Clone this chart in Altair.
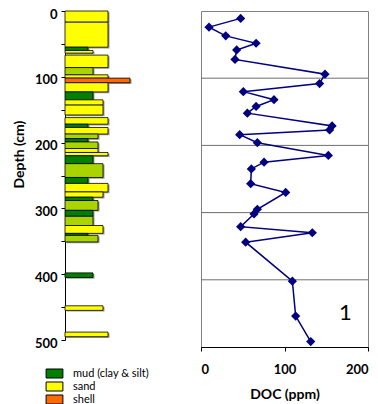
import altair as alt
import pandas as pd

# ---- lithology column (depth intervals in cm, relative grain-size width) ----
bar_top = [0, 17, 55, 60, 67, 86, 97, 102, 109, 123, 135, 143, 162, 172, 177, 187, 194, 199,
           209, 215, 220, 232, 253, 262, 275, 283, 288, 303, 312, 326, 338, 341, 398, 448, 488]
bar_bottom = [17, 55, 60, 64, 86, 97, 102, 109, 123, 135, 143, 158, 172, 177, 187, 194, 199, 209,
              215, 220, 232, 253, 262, 275, 283, 288, 303, 312, 326, 338, 341, 351, 405, 455, 495]
bar_grain = [43, 43, 23, 28, 43, 28, 43, 65, 43, 28, 38, 38, 43, 23, 43, 33, 23, 33,
             33, 43, 28, 38, 23, 43, 38, 28, 33, 28, 28, 38, 23, 33, 28, 38, 43]
M, S, Y, H = "mud (clay & silt)", "sand", "sandy mud", "shell"
bar_lith = [S, S, M, S, S, Y, S, H, S, M, S, S, S, M, S, Y, M, Y,
            S, S, M, Y, M, S, S, M, Y, M, Y, S, M, Y, M, S, S]

lith_names = [M, S, Y, H]
lith_colors = ["#008000", "#FFFF00", "#AAD400", "#FF6A00"]
legend_names = [M, S, H]

# ---- DOC profile ----
doc_depth = [11, 24, 37, 48, 58, 72, 94, 108, 120, 132, 142, 152, 171, 177, 184, 196, 215, 225,
             235, 257, 270, 295, 302, 321, 330, 344, 402, 454, 492]
doc_value = [47.5, 9.6, 29.6, 66, 42.7, 40.7, 148.5, 142, 50.7, 87.4, 66, 55.5, 157, 154, 46.3,
             67.5, 152.5, 75.5, 60.3, 59.5, 101.4, 67.5, 63.5, 47.5, 133.3, 53.5, 109.4, 113.4, 131.4]

grid_depth = [100, 200, 300, 400]
panel_text = ["1"]
panel_text_doc = [173]
panel_text_depth = [449]

bars_df = pd.DataFrame({"top": bar_top, "bottom": bar_bottom, "grain": bar_grain, "lith": bar_lith})
doc_df = pd.DataFrame({"depth": doc_depth, "doc": doc_value})
grid_df = pd.DataFrame({"depth": grid_depth})
txt_df = pd.DataFrame({"t": panel_text, "doc": panel_text_doc, "depth": panel_text_depth})

FONT = "Lato"

# ---- left panel ----
y_left = alt.Y(
    "top:Q",
    scale=alt.Scale(domain=[0, 500], reverse=True, nice=False, zero=False),
    axis=alt.Axis(
        values=list(range(0, 501, 50)),
        labelExpr="datum.value % 100 == 0 ? datum.label : ''",
        tickSize=4, tickColor="black", domainColor="black", grid=False,
        labelFont=FONT, labelFontWeight="bold", labelFontSize=13, labelColor="black",
        labelPadding=4, labelOffset=3,
        title="Depth (cm)", titleFont=FONT, titleFontWeight="bold", titleFontSize=14,
        titleColor="black", titlePadding=8, titleY=143,
    ),
)
x_scale_left = alt.Scale(domain=[0, 70], nice=False)

shadow = alt.Chart(bars_df).mark_rect(
    color="#9a9a9a", xOffset=1.5, x2Offset=1.5, yOffset=1.2, y2Offset=1.2
).encode(
    x=alt.X("grain:Q", scale=x_scale_left, axis=None),
    x2=alt.datum(0),
    y=y_left,
    y2="bottom:Q",
)

bars = alt.Chart(bars_df).mark_rect(stroke="black", strokeWidth=0.8).encode(
    x=alt.X("grain:Q", scale=x_scale_left, axis=None),
    x2=alt.datum(0),
    y=y_left,
    y2="bottom:Q",
    color=alt.Color(
        "lith:N",
        scale=alt.Scale(domain=lith_names, range=lith_colors),
        legend=alt.Legend(
            values=legend_names, title=None, orient="none", legendX=-17, legendY=356,
            symbolType="M-1.4,-0.75H1.4V0.75H-1.4Z", symbolSize=144,
            symbolStrokeColor="black", symbolStrokeWidth=1, symbolOpacity=1,
            labelFont=FONT, labelFontSize=11, labelColor="black", labelOffset=12,
            rowPadding=0,
        ),
    ),
)

left = alt.layer(shadow, bars).properties(width=70, height=329, view=alt.ViewBackground(stroke=None))

# ---- right panel ----
x_right = alt.X(
    "doc:Q",
    scale=alt.Scale(domain=[0, 200], nice=False),
    axis=alt.Axis(
        values=[0, 100, 200], tickSize=4, tickColor="black", domainColor="black", grid=False,
        labelFont=FONT, labelFontWeight="bold", labelFontSize=13, labelColor="black",
        labelPadding=12,
        title="DOC (ppm)", titleFont=FONT, titleFontWeight="bold", titleFontSize=14,
        titleColor="black", titlePadding=11,
    ),
)
y_scale_right = alt.Scale(domain=[0, 500], reverse=True, nice=False, zero=False)
y_right = alt.Y("depth:Q", scale=y_scale_right, axis=None)

grid = alt.Chart(grid_df).mark_rule(color="#6e6e6e", strokeWidth=1).encode(y=y_right)
line = alt.Chart(doc_df).mark_line(color="#000080", strokeWidth=1.5).encode(
    x=x_right, y=y_right, order="depth:Q"
)
pts = alt.Chart(doc_df).mark_point(
    shape="diamond", filled=True, size=85, color="#000080", opacity=1
).encode(x=x_right, y=y_right)
txt = alt.Chart(txt_df).mark_text(
    font=FONT, fontSize=22, color="black", align="center", baseline="middle"
).encode(x=x_right, y=y_right, text="t:N")

right = alt.layer(grid, line, pts, txt).properties(
    width=167, height=336, view=alt.ViewBackground(stroke="#808080", strokeWidth=1)
)

chart = alt.hconcat(left, right, spacing=65).properties(
    padding={"left": 12, "top": 8, "right": 0, "bottom": 0}
).configure(font=FONT, background="white")

chart.save("out.html", embed_options={"renderer": "svg", "actions": False})
